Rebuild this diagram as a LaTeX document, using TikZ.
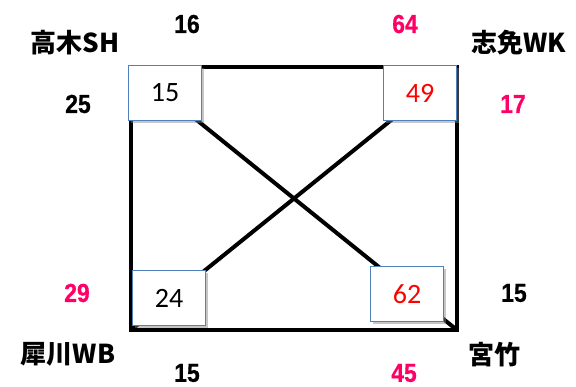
\documentclass[tikz,border=0pt]{standalone}
\usepackage{fontspec}
\usetikzlibrary{shadows}
\newfontfamily\cjkf{Noto Sans CJK JP}
\newfontfamily\numf[FakeStretch=0.88,FakeBold=0.6]{Liberation Sans Bold}
\newfontfamily\boxf{Carlito}
\definecolor{pinkn}{RGB}{255,0,102}
\definecolor{boxblue}{RGB}{79,129,189}
\begin{document}
\begin{tikzpicture}[x=1pt,y=-1pt,
  frame/.style={line width=4pt, line join=miter},
  diag/.style={line width=4pt},
  numbox/.style={draw=boxblue, line width=1.2pt, fill=white, minimum width=73pt, minimum height=55pt, inner sep=0pt,
    font=\boxf\fontsize{28}{28}\selectfont,
    drop shadow={shadow xshift=2.5pt, shadow yshift=-2.5pt, opacity=0.45}},
  num/.style={font=\numf\fontsize{26}{26}\selectfont, inner sep=0pt},
  place/.style={font=\cjkf\bfseries\fontsize{26}{26}\selectfont, inner sep=0pt}
]
\useasboundingbox (0,0) rectangle (576,386);
\coordinate (TL) at (131,67);
\coordinate (TR) at (457,67);
\coordinate (BL) at (131,330);
\coordinate (BR) at (457,330);
\draw[diag] (TL) -- (BR);
\draw[diag] (TR) -- (BL);
\draw[frame] (TL) -- (TR) -- (BR) -- (BL) -- cycle;

\node[numbox] (b15) at (165,93) {15\hspace{10pt}};
\node[numbox, text=red] (b49) at (420,93) {49\hspace{10pt}};
\node[numbox] (b24) at (169,298) {24\hspace{10pt}};
\node[numbox, text=red] (b62) at (407,294) {62\hspace{10pt}};

\node[place] (sh) at (75,43) {高木SH};
\node[place] (wk) at (519,43) {志免WK};
\node[place] (wb) at (68,354) {犀川WB};
\node[place] (mt) at (494,355) {宮竹};

\node[num] (n16) at (187,24) {16};
\node[num, text=pinkn] (n64) at (405,24) {64};
\node[num] (n25) at (78,104) {25};
\node[num, text=pinkn] (n17) at (513,104) {17};
\node[num, text=pinkn] (n29) at (77,293) {29};
\node[num] (n15r) at (514,293) {15};
\node[num] (n15b) at (187,373) {15};
\node[num, text=pinkn] (n45) at (404,373) {45};
\end{tikzpicture}
\end{document}
